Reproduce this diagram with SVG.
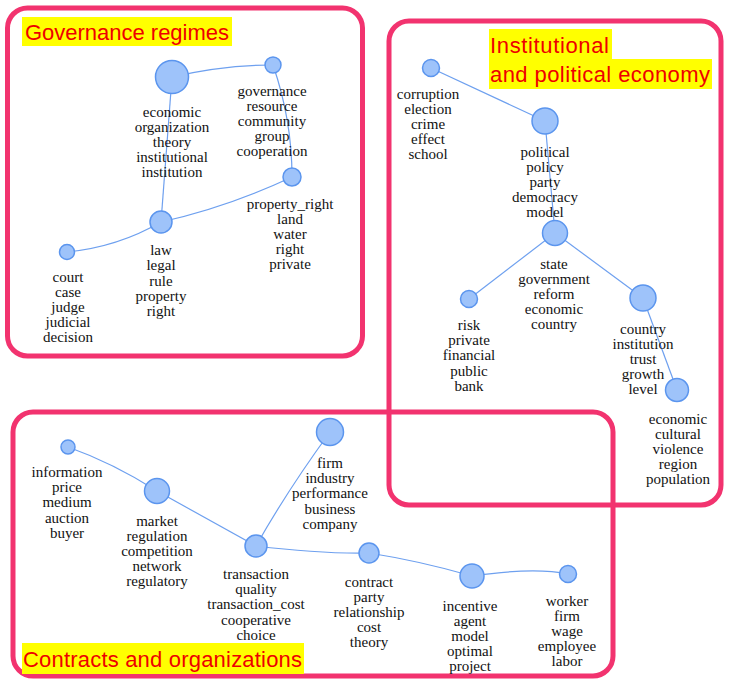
<svg xmlns="http://www.w3.org/2000/svg" width="730" height="687" viewBox="0 0 730 687">
<style>
.box{fill:none;stroke:#f2336f;stroke-width:5}
.hl{fill:#ffff00}
.title{font-family:"Liberation Sans",Arial,sans-serif;font-size:22px;fill:#ee0000}
.n circle{fill:#9ec3fa;stroke:#5b95ee;stroke-width:1.5}
.lbl{font-family:'Liberation Serif','DejaVu Serif',serif;font-size:15px;fill:#111;text-anchor:middle}
.e path{fill:none;stroke:#6ea0ef;stroke-width:1.2}
</style>
<rect width="730" height="687" fill="#fff"/>
<g id="boxes">
<rect class="box" x="7.5" y="8" width="355" height="348" rx="20"/>
<rect class="box" x="389" y="21" width="332" height="484" rx="20"/>
<rect class="box" x="13" y="412" width="600" height="264" rx="20"/>
</g>
<g id="titles">
<rect class="hl" x="22" y="17" width="210" height="29"/>
<text class="title" x="25" y="40" textLength="204">Governance regimes</text>
<rect class="hl" x="489" y="29" width="123" height="30"/>
<rect class="hl" x="489" y="59" width="223" height="30"/>
<text class="title" x="490" y="53" textLength="119">Institutional</text>
<text class="title" x="490" y="82" textLength="220">and political economy</text>
<rect class="hl" x="22" y="643" width="282" height="31"/>
<text class="title" x="23" y="667" textLength="279">Contracts and organizations</text>
</g>
<g id="connectors" class="e">
<path d="M172,77 Q224,65 273,65"/>
<path d="M273,65 Q292,120 292,177"/>
<path d="M172,77 L161,222"/>
<path d="M161,222 Q228,207 292,177"/>
<path d="M67,252 Q118,247 161,222"/>
<path d="M431,68 L545,121"/>
<path d="M545,121 L555,233"/>
<path d="M555,233 L469,299"/>
<path d="M555,233 L643,298"/>
<path d="M643,298 L677,390"/>
<path d="M68,447 Q113,463 157,491"/>
<path d="M157,491 L256,546"/>
<path d="M256,546 Q287,491 330,432"/>
<path d="M256,546 Q321,554 369,553"/>
<path d="M369,553 Q420,561 472,576"/>
<path d="M472,576 Q534,567 568,574"/>
</g>
<g id="n-economic-organization" class="n">
<circle cx="172" cy="77" r="16.5"/>
<text class="lbl" x="172" y="117"><tspan x="172">economic</tspan><tspan x="172" dy="15">organization</tspan><tspan x="172" dy="15">theory</tspan><tspan x="172" dy="15">institutional</tspan><tspan x="172" dy="15">institution</tspan></text>
</g>
<g id="n-governance" class="n">
<circle cx="273" cy="65" r="8"/>
<text class="lbl" x="272" y="96"><tspan x="272">governance</tspan><tspan x="272" dy="15">resource</tspan><tspan x="272" dy="15">community</tspan><tspan x="272" dy="15">group</tspan><tspan x="272" dy="15">cooperation</tspan></text>
</g>
<g id="n-property-right" class="n">
<circle cx="292" cy="177" r="9"/>
<text class="lbl" x="290" y="209"><tspan x="290">property_right</tspan><tspan x="290" dy="15">land</tspan><tspan x="290" dy="15">water</tspan><tspan x="290" dy="15">right</tspan><tspan x="290" dy="15">private</tspan></text>
</g>
<g id="n-law" class="n">
<circle cx="161" cy="222" r="11"/>
<text class="lbl" x="161" y="255"><tspan x="161">law</tspan><tspan x="161" dy="15.3">legal</tspan><tspan x="161" dy="15.3">rule</tspan><tspan x="161" dy="15.3">property</tspan><tspan x="161" dy="15.3">right</tspan></text>
</g>
<g id="n-court" class="n">
<circle cx="67" cy="252" r="7.5"/>
<text class="lbl" x="68" y="282"><tspan x="68">court</tspan><tspan x="68" dy="15">case</tspan><tspan x="68" dy="15">judge</tspan><tspan x="68" dy="15">judicial</tspan><tspan x="68" dy="15">decision</tspan></text>
</g>
<g id="n-corruption" class="n">
<circle cx="431" cy="68" r="8.5"/>
<text class="lbl" x="428" y="99"><tspan x="428">corruption</tspan><tspan x="428" dy="15">election</tspan><tspan x="428" dy="15">crime</tspan><tspan x="428" dy="15">effect</tspan><tspan x="428" dy="15">school</tspan></text>
</g>
<g id="n-political" class="n">
<circle cx="545" cy="121" r="13"/>
<text class="lbl" x="545" y="157"><tspan x="545">political</tspan><tspan x="545" dy="15">policy</tspan><tspan x="545" dy="15">party</tspan><tspan x="545" dy="15">democracy</tspan><tspan x="545" dy="15">model</tspan></text>
</g>
<g id="n-state" class="n">
<circle cx="555" cy="233" r="12.5"/>
<text class="lbl" x="554" y="269"><tspan x="554">state</tspan><tspan x="554" dy="15">government</tspan><tspan x="554" dy="15">reform</tspan><tspan x="554" dy="15">economic</tspan><tspan x="554" dy="15">country</tspan></text>
</g>
<g id="n-risk" class="n">
<circle cx="469" cy="299" r="8.5"/>
<text class="lbl" x="469" y="330"><tspan x="469">risk</tspan><tspan x="469" dy="15.2">private</tspan><tspan x="469" dy="15.2">financial</tspan><tspan x="469" dy="15.2">public</tspan><tspan x="469" dy="15.2">bank</tspan></text>
</g>
<g id="n-country" class="n">
<circle cx="643" cy="298" r="13"/>
<text class="lbl" x="643" y="334"><tspan x="643">country</tspan><tspan x="643" dy="15">institution</tspan><tspan x="643" dy="15">trust</tspan><tspan x="643" dy="15">growth</tspan><tspan x="643" dy="15">level</tspan></text>
</g>
<g id="n-economic-cultural" class="n">
<circle cx="677" cy="390" r="11.5"/>
<text class="lbl" x="678" y="424"><tspan x="678">economic</tspan><tspan x="678" dy="15">cultural</tspan><tspan x="678" dy="15">violence</tspan><tspan x="678" dy="15">region</tspan><tspan x="678" dy="15">population</tspan></text>
</g>
<g id="n-information" class="n">
<circle cx="68" cy="447" r="7"/>
<text class="lbl" x="67" y="477"><tspan x="67">information</tspan><tspan x="67" dy="15.2">price</tspan><tspan x="67" dy="15.2">medium</tspan><tspan x="67" dy="15.2">auction</tspan><tspan x="67" dy="15.2">buyer</tspan></text>
</g>
<g id="n-market" class="n">
<circle cx="157" cy="491" r="12.5"/>
<text class="lbl" x="157" y="526"><tspan x="157">market</tspan><tspan x="157" dy="15">regulation</tspan><tspan x="157" dy="15">competition</tspan><tspan x="157" dy="15">network</tspan><tspan x="157" dy="15">regulatory</tspan></text>
</g>
<g id="n-transaction" class="n">
<circle cx="256" cy="546" r="11"/>
<text class="lbl" x="256" y="579"><tspan x="256">transaction</tspan><tspan x="256" dy="15.2">quality</tspan><tspan x="256" dy="15.2">transaction_cost</tspan><tspan x="256" dy="15.2">cooperative</tspan><tspan x="256" dy="15.2">choice</tspan></text>
</g>
<g id="n-firm" class="n">
<circle cx="330" cy="432" r="13.5"/>
<text class="lbl" x="330" y="468"><tspan x="330">firm</tspan><tspan x="330" dy="15.2">industry</tspan><tspan x="330" dy="15.2">performance</tspan><tspan x="330" dy="15.2">business</tspan><tspan x="330" dy="15.2">company</tspan></text>
</g>
<g id="n-contract" class="n">
<circle cx="369" cy="553" r="10"/>
<text class="lbl" x="369" y="587"><tspan x="369">contract</tspan><tspan x="369" dy="15">party</tspan><tspan x="369" dy="15">relationship</tspan><tspan x="369" dy="15">cost</tspan><tspan x="369" dy="15">theory</tspan></text>
</g>
<g id="n-incentive" class="n">
<circle cx="472" cy="576" r="12"/>
<text class="lbl" x="470" y="611"><tspan x="470">incentive</tspan><tspan x="470" dy="15">agent</tspan><tspan x="470" dy="15">model</tspan><tspan x="470" dy="15">optimal</tspan><tspan x="470" dy="15">project</tspan></text>
</g>
<g id="n-worker" class="n">
<circle cx="568" cy="574" r="8.5"/>
<text class="lbl" x="567" y="606"><tspan x="567">worker</tspan><tspan x="567" dy="15">firm</tspan><tspan x="567" dy="15">wage</tspan><tspan x="567" dy="15">employee</tspan><tspan x="567" dy="15">labor</tspan></text>
</g>
</svg>
